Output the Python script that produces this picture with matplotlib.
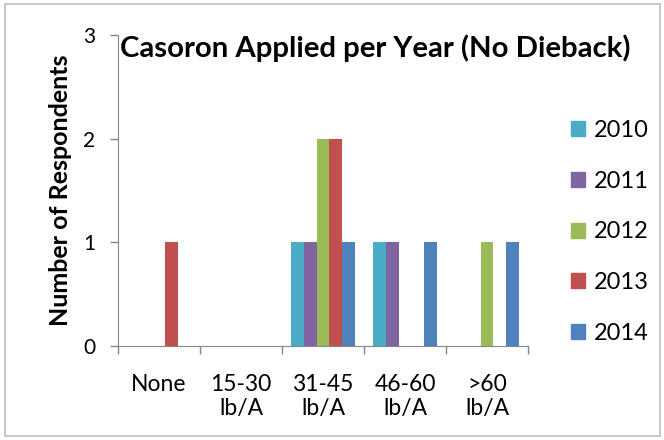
import matplotlib
matplotlib.use("Agg")
import matplotlib.pyplot as plt
import numpy as np
from matplotlib.patches import Rectangle

categories = ["None", "15-30\nlb/A", "31-45\nlb/A", "46-60\nlb/A", ">60\nlb/A"]
years = ["2010", "2011", "2012", "2013", "2014"]
values = {
    "2010": [0, 0, 1, 1, 0],
    "2011": [0, 0, 1, 1, 0],
    "2012": [0, 0, 2, 0, 1],
    "2013": [1, 0, 2, 0, 0],
    "2014": [0, 0, 1, 1, 1],
}
colors = {"2010": "#4BACC6", "2011": "#8064A2", "2012": "#9BBB59",
          "2013": "#C0504D", "2014": "#4F81BD"}
yticks = [0, 1, 2, 3]

plt.rcParams['font.family'] = ['Lato', 'DejaVu Sans']

W, H = 664, 440
fig = plt.figure(figsize=(6.64, 4.4), dpi=100)
ax = fig.add_axes([118 / W, 1 - 346 / H, (528 - 118) / W, (346 - 35) / H])

x = np.arange(len(categories))
w = 0.155
for i, yr in enumerate(years):
    ax.bar(x + (i - 2) * w, values[yr], width=w, color=colors[yr], label=yr)

ax.set_xlim(-0.5, len(categories) - 0.5)
ax.set_ylim(0, 3)
ax.set_yticks(yticks)
ax.set_yticklabels([str(t) for t in yticks], fontsize=15)
ax.set_xticks(x)
ax.set_xticklabels(categories, fontsize=16.5, linespacing=1.2)
ax.tick_params(axis='x', length=0, pad=20)
ax.set_xticks(np.arange(-0.5, len(categories), 1.0), minor=True)
ax.tick_params(axis='x', which='minor', length=5.5, width=1, color='#868686', direction='out')
ax.tick_params(axis='y', length=5.5, width=1, color='#868686', direction='out', pad=11)

for s in ['top', 'right']:
    ax.spines[s].set_visible(False)
for s in ['left', 'bottom']:
    ax.spines[s].set_color('#868686')

ax.set_ylabel("Number of Respondents", fontsize=18, fontweight='bold', labelpad=8)
fig.text(120 / W, 1 - 48 / H, "Casoron Applied per Year (No Dieback)", fontsize=21.2,
         fontweight='bold', ha='left', va='center')

handles = [Rectangle((0, 0), 1, 1, color=colors[yr]) for yr in years]
fig.legend(handles, years, loc='center left', bbox_to_anchor=(571 / W, 1 - 232 / H),
           frameon=False, fontsize=17, handlelength=0.6, handleheight=0.6,
           labelspacing=1.26, handletextpad=0.35, borderpad=0, borderaxespad=0)

fig.patches.append(Rectangle((5 / W, 4 / H), (660 - 5) / W, (436 - 4) / H,
                             transform=fig.transFigure, fill=False,
                             edgecolor='#BFBFBF', linewidth=1.2))

fig.savefig("out.png", dpi=100)
